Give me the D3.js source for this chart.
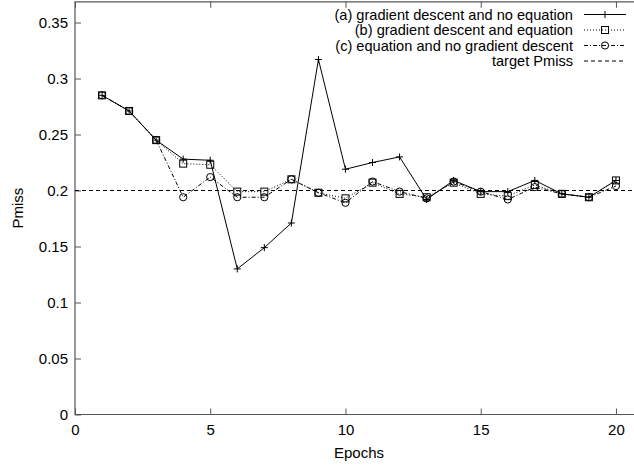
<!DOCTYPE html>
<html>
<head>
<meta charset="utf-8">
<script src="https://cdn.jsdelivr.net/npm/d3@7.9.0/dist/d3.min.js"></script>
<style>
  body { margin: 0; background: #fff; }
  svg { display: block; font-family: "Liberation Sans", Arial, sans-serif; }
</style>
</head>
<body>
<svg id="chart" width="634" height="468"></svg>
<script>
const epochs = d3.range(1, 21);
const seriesA = [0.285, 0.271, 0.245, 0.228, 0.227, 0.130, 0.149, 0.171, 0.317, 0.219,
                 0.225, 0.230, 0.192, 0.209, 0.199, 0.199, 0.209, 0.197, 0.194, 0.209];
const seriesB = [0.285, 0.271, 0.245, 0.224, 0.223, 0.199, 0.199, 0.210, 0.198, 0.193,
                 0.207, 0.197, 0.194, 0.207, 0.197, 0.195, 0.205, 0.197, 0.194, 0.209];
const seriesC = [0.285, 0.271, 0.245, 0.194, 0.212, 0.194, 0.194, 0.210, 0.198, 0.189,
                 0.208, 0.199, 0.193, 0.208, 0.199, 0.192, 0.203, 0.197, 0.194, 0.204];
const target = 0.2;
const labels = [
  '(a) gradient descent and no equation',
  '(b) gradient descent and equation',
  '(c) equation and no gradient descent',
  'target Pmiss'
];
const xTicks = [0, 5, 10, 15, 20];
const yTicks = [0, 0.05, 0.1, 0.15, 0.2, 0.25, 0.3, 0.35];

const svg = d3.select('#chart');
const x = d3.scaleLinear().domain([0, 21]).range([75, 643]);
const y = d3.scaleLinear().domain([0, 0.3685]).range([414.5, 1.8]);

const axisColor = '#555';

// frame (right side is cut off by the image edge)
svg.append('path')
  .attr('d', `M${x(21)},${y(0.3685)}H${x(0)}V${y(0)}H${x(21)}`)
  .attr('fill', 'none').attr('stroke', axisColor).attr('stroke-width', 1.2);

// y axis
const yAxis = svg.append('g')
  .attr('transform', `translate(${x(0)},0)`)
  .call(d3.axisLeft(y).tickValues(yTicks).tickSize(-6).tickPadding(7)
    .tickFormat(d => d === 0 ? '0' : String(+d.toFixed(2))));
yAxis.select('.domain').remove();
yAxis.selectAll('line').attr('stroke', axisColor);
yAxis.selectAll('text').attr('font-size', 15).attr('fill', '#000')
  .attr('font-family', '"Liberation Sans", Arial, sans-serif');

// x axis bottom
const xAxis = svg.append('g')
  .attr('transform', `translate(0,${y(0)})`)
  .call(d3.axisBottom(x).tickValues(xTicks).tickSize(-6).tickPadding(10));
xAxis.select('.domain').remove();
xAxis.selectAll('line').attr('stroke', axisColor);
xAxis.selectAll('text').attr('font-size', 15).attr('fill', '#000')
  .attr('font-family', '"Liberation Sans", Arial, sans-serif');

// x axis top ticks (no labels)
const xTop = svg.append('g')
  .attr('transform', `translate(0,${y(0.3685)})`)
  .call(d3.axisTop(x).tickValues(xTicks).tickSize(-6).tickFormat(''));
xTop.select('.domain').remove();
xTop.selectAll('line').attr('stroke', axisColor);

// axis titles
svg.append('text').attr('x', (x(0) + x(21)) / 2).attr('y', 458)
  .attr('text-anchor', 'middle').attr('font-size', 15).text('Epochs');
svg.append('text').attr('transform', `translate(23,${(y(0) + y(0.3685)) / 2}) rotate(-90)`)
  .attr('text-anchor', 'middle').attr('font-size', 15).text('Pmiss');

// target line
svg.append('line')
  .attr('x1', x(0)).attr('x2', x(21)).attr('y1', y(target)).attr('y2', y(target))
  .attr('stroke', '#000').attr('stroke-dasharray', '4,3');

const line = d3.line().x((d, i) => x(epochs[i])).y(d => y(d));

function drawMarker(g, type, cx, cy) {
  if (type === 'plus') {
    g.append('path').attr('d', `M${cx - 3.5},${cy}H${cx + 3.5}M${cx},${cy - 3.5}V${cy + 3.5}`)
      .attr('stroke', '#000').attr('fill', 'none');
  } else if (type === 'square') {
    g.append('rect').attr('x', cx - 3.5).attr('y', cy - 3.5).attr('width', 7).attr('height', 7)
      .attr('stroke', '#000').attr('fill', 'none');
  } else {
    g.append('circle').attr('cx', cx).attr('cy', cy).attr('r', 3.6)
      .attr('stroke', '#000').attr('fill', 'none');
  }
}

const series = [
  { values: seriesA, dash: null, marker: 'plus' },
  { values: seriesB, dash: '1,2', marker: 'square' },
  { values: seriesC, dash: '4,2,1,2', marker: 'circle' }
];

series.forEach(s => {
  const g = svg.append('g');
  g.append('path').attr('d', line(s.values))
    .attr('fill', 'none').attr('stroke', '#000').attr('stroke-width', 1)
    .attr('stroke-dasharray', s.dash);
  s.values.forEach((v, i) => drawMarker(g, s.marker, x(epochs[i]), y(v)));
});

// legend
const legend = svg.append('g');
labels.forEach((label, i) => {
  const cy = 14.5 + i * 15.5;
  legend.append('text').attr('x', 573).attr('y', cy + 5)
    .attr('text-anchor', 'end').attr('font-size', 14.6).text(label);
  legend.append('line').attr('x1', 584).attr('x2', 626).attr('y1', cy).attr('y2', cy)
    .attr('stroke', '#000')
    .attr('stroke-dasharray', i < 3 ? series[i].dash : '4,3');
  if (i < 3) drawMarker(legend, series[i].marker, 605, cy);
});
</script>
</body>
</html>
